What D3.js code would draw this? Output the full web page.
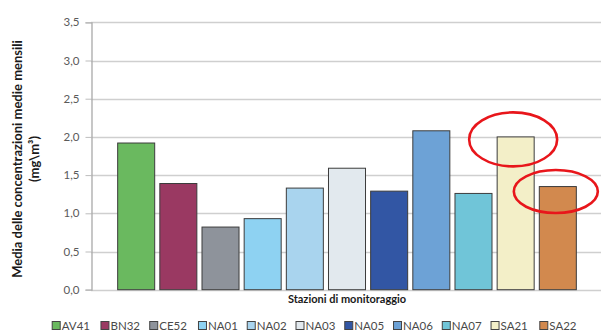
<!DOCTYPE html>
<html><head><meta charset="utf-8">
<script src="https://cdn.jsdelivr.net/npm/d3@7"></script>
<style>
html,body{margin:0;padding:0;background:#fff;}
svg{display:block;font-family:Lato,"Open Sans",sans-serif;}
</style></head>
<body><svg id="c" width="603" height="334"></svg>
<script>
const categories = ["AV41","BN32","CE52","NA01","NA02","NA03","NA05","NA06","NA07","SA21","SA22"];
const values = [1.92, 1.39, 0.82, 0.93, 1.33, 1.59, 1.29, 2.08, 1.26, 2.00, 1.35];
const colors = ["#6ab95f","#9a3962","#8e939b","#8ed2f2","#a9d4ee","#e2e9ee","#3256a4","#6da2d6","#70c5d8","#f3efc8","#d2894e"];
const yTicks = [0,0.5,1.0,1.5,2.0,2.5,3.0,3.5];
const yTitle1 = "Media delle concentrazioni medie mensili";
const yTitle2 = "(mg\\m³)";
const xTitle = "Stazioni di monitoraggio";

const svg = d3.select("#c");
const plotL = 91, plotR = 601, plotT = 22.3, plotB = 289.7;

const y = d3.scaleLinear().domain([0,3.5]).range([plotB, plotT]);
const x = d3.scaleBand().domain(categories).range([115.1, 578.9]).paddingInner(0.122).paddingOuter(0.061);

// gridlines
svg.append("g").selectAll("line").data(yTicks).join("line")
  .attr("x1", plotL).attr("x2", plotR)
  .attr("y1", d=>Math.round(y(d))+0.5).attr("y2", d=>Math.round(y(d))+0.5)
  .attr("stroke", "#cfcfcf").attr("stroke-width", 1.3);

// y axis
const yAxis = d3.axisLeft(y).tickValues(yTicks).tickSize(6).tickPadding(6)
  .tickFormat(d => d3.format(".1f")(d).replace(".", ","));
const ga = svg.append("g").attr("transform", `translate(${plotL+0.5},0)`).call(yAxis);
ga.select(".domain").attr("stroke", "#a9a9a9").attr("stroke-width", 1.3);
ga.selectAll(".tick line").attr("stroke", "#bdbdbd");
ga.selectAll(".tick text").attr("fill", "#5a5a5a").style("font-size", "11.5px").style("font-family", "Lato,sans-serif");

// bars
svg.append("g").selectAll("rect").data(categories).join("rect")
  .attr("x", d=>x(d)).attr("width", x.bandwidth())
  .attr("y", (d,i)=>y(values[i])).attr("height", (d,i)=>y(0)-y(values[i]))
  .attr("fill", (d,i)=>colors[i]).attr("stroke", "#3c3c3c").attr("stroke-width", 1);

// axis titles
svg.append("text").attr("transform", `translate(21.5,${(plotT+plotB)/2+3}) rotate(-90)`)
  .attr("text-anchor","middle").attr("fill","#1a1a1a").style("font-size","13px").style("font-weight","bold")
  .text(yTitle1);
svg.append("text").attr("transform", `translate(38.5,${(plotT+plotB)/2+3}) rotate(-90)`)
  .attr("text-anchor","middle").attr("fill","#1a1a1a").style("font-size","13px").style("font-weight","bold")
  .text(yTitle2);
svg.append("text").attr("x", 347).attr("y", 303)
  .attr("text-anchor","middle").attr("fill","#1a1a1a").style("font-size","11px").style("font-weight","bold")
  .text(xTitle);

// legend
const legX = d3.scalePoint().domain(categories).range([51.7, 539.3]);
const lg = svg.append("g").selectAll("g").data(categories).join("g")
  .attr("transform", d=>`translate(${legX(d)},0)`);
lg.append("rect").attr("x",0.5).attr("y",321.5).attr("width",8).attr("height",8)
  .attr("fill",(d,i)=>colors[i]).attr("stroke","#444").attr("stroke-width",1);
lg.append("text").attr("x",10).attr("y",329.5).attr("fill","#4a4a4a").style("font-size","11.5px").text(d=>d);

// annotation ellipses
const ann = [{c:"SA21", dx:-2.5, dy:2.5, rx:44, ry:27},{c:"SA22", dx:-2, dy:5, rx:42, ry:21.5}];
svg.append("g").selectAll("ellipse").data(ann).join("ellipse")
  .attr("cx", d=>x(d.c)+x.bandwidth()/2+d.dx)
  .attr("cy", d=>y(values[categories.indexOf(d.c)])+d.dy)
  .attr("rx", d=>d.rx).attr("ry", d=>d.ry)
  .attr("fill","none").attr("stroke","#e8161b").attr("stroke-width",2.6);
</script></body></html>
